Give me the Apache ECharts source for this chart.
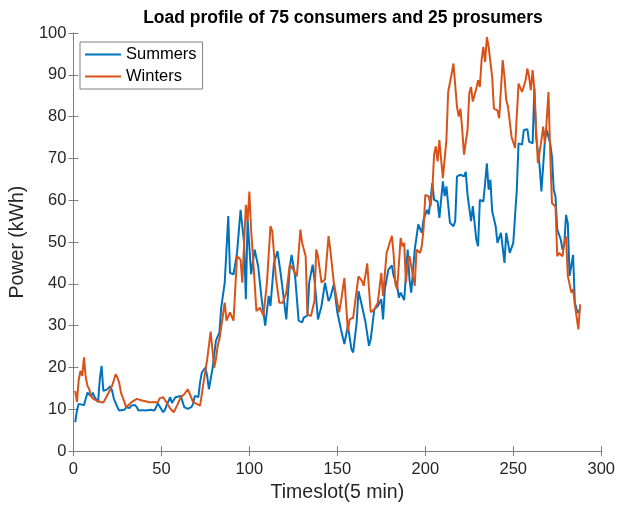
<!DOCTYPE html>
<html>
<head>
<meta charset="utf-8">
<script src="https://cdn.jsdelivr.net/npm/echarts@6/dist/echarts.min.js"></script>
<style>html,body{margin:0;padding:0;background:#fff;}#c{width:618px;height:508px;}</style>
</head>
<body>
<div id="c"></div>
<script>
var titleText = 'Load profile of 75 consumers and 25 prosumers';
var xLabel = 'Timeslot(5 min)';
var yLabel = 'Power (kWh)';
var seriesNames = ['Summers', 'Winters'];

var summerSlots = [1,2,3,4,6,7,8,10,11,12,13,14,15,16,17,18,19,21,22,23,25,26,27,29,30,32,33,35,36,37,39,41,42,44,46,47,48,49,51,52,53,55,56,58,61,63,65,67,68,69,71,72,73,75,76,77,79,81,83,84,86,88,89,91,93,95,97,98,99,101,103,105,107,109,111,112,114,116,118,121,123,124,126,128,130,131,133,134,136,137,139,141,143,145,146,148,150,152,154,156,158,159,161,162,164,166,168,169,171,173,175,176,177,179,181,182,184,185,186,188,190,191,192,194,196,198,199,201,202,204,205,207,208,210,211,212,214,216,217,218,220,222,223,224,226,227,229,230,231,233,234,235,236,237,238,240,241,243,245,246,248,250,252,253,255,256,258,259,261,262,263,265,266,268,269,271,272,273,274,275,277,278,279,280,281,282,283,284,285,286,287,288];
var summerValues = [6.9,9.7,11.3,11.5,11.0,12.5,14.0,13.1,14.0,12.9,13.2,11.7,17.2,20.4,14.4,14.6,14.7,15.5,14.4,12.5,10.5,9.7,9.4,9.9,10.5,10.3,10.9,11.0,10.5,9.7,9.8,9.7,10.1,9.9,9.7,10.5,11.4,11.0,9.3,9.8,11.0,12.9,11.5,12.9,13.2,10.5,10.1,10.5,11.3,13.2,12.9,16.5,18.8,20.0,18.0,14.8,19.6,26.4,28.4,34.3,40.3,56.2,42.6,42.3,47.4,57.7,49.8,36.3,55.4,42.3,48.2,44.2,36.3,30.0,37.1,34.7,45.0,47.8,41.8,31.5,44.2,46.9,41.8,31.2,30.8,32.0,32.4,40.3,44.6,41.1,31.5,34.7,40.3,35.9,36.7,39.9,33.2,29.2,25.6,30.0,24.4,23.6,30.8,38.3,34.7,30.8,25.2,26.8,33.9,34.7,36.3,31.5,38.7,43.4,44.4,41.9,39.5,36.7,37.9,36.1,48.2,41.1,37.9,48.2,54.2,52.2,55.4,57.7,56.6,64.1,60.1,59.7,55.8,64.5,61.0,63.3,54.6,53.8,55.0,65.7,66.1,65.7,66.8,61.3,55.0,58.6,50.6,49.0,60.1,59.7,64.1,68.8,62.5,64.9,57.4,53.8,49.8,52.2,45.0,52.2,47.4,49.8,62.5,73.6,73.3,76.8,77.0,74.0,73.6,86.7,75.2,68.1,62.1,74.4,76.8,73.6,70.4,62.5,60.9,53.0,50.6,48.2,49.4,56.5,54.5,41.9,41.5,46.9,35.5,33.9,33.0,34.0];

var winterSlots = [1,2,3,4,5,6,7,8,9,10,11,13,14,15,17,18,19,21,22,23,24,25,26,27,29,30,31,33,34,36,37,39,41,43,44,46,48,49,51,52,54,55,57,59,61,63,65,66,68,70,72,74,76,78,80,81,82,83,86,87,89,91,93,95,96,98,99,100,101,103,104,106,108,110,112,113,115,117,119,121,123,125,127,129,130,132,133,135,137,138,139,141,143,145,146,148,149,151,152,154,156,157,159,160,162,164,165,167,168,169,171,173,175,176,178,179,181,182,183,184,186,187,188,189,190,191,192,194,195,197,198,199,200,202,203,204,205,206,207,208,209,210,212,213,215,216,218,219,220,221,222,224,225,226,227,229,230,231,232,233,234,235,236,237,238,239,241,242,244,245,246,247,249,251,252,253,255,256,257,258,259,260,261,262,263,264,266,267,268,269,270,271,272,274,275,276,278,279,280,281,282,283,284,285,287,288];
var winterValues = [14.4,11.7,17.0,19.2,18.0,22.4,17.6,15.6,14.8,13.2,12.6,12.1,12.3,11.8,11.6,11.9,13.2,14.8,15.6,16.0,18.4,17.6,16.4,14.0,11.7,10.5,10.8,11.7,12.1,12.5,12.3,12.1,11.9,11.7,11.9,11.7,11.7,12.6,12.9,12.5,10.9,10.2,9.3,11.0,12.9,13.6,14.8,13.8,11.7,11.3,10.9,16.5,21.8,28.6,19.9,22.0,25.2,26.8,35.5,31.2,33.2,31.2,46.6,45.8,40.3,58.9,55.0,62.1,53.0,40.3,33.5,34.3,32.4,40.3,53.8,52.6,41.8,35.5,35.5,37.9,44.6,43.4,41.8,53.0,49.8,46.6,32.7,32.3,35.9,48.2,46.6,40.3,41.1,51.4,48.2,40.3,40.7,33.2,35.5,41.4,28.6,31.5,31.9,32.3,41.8,40.7,39.5,44.9,38.7,33.2,33.9,35.5,42.6,37.1,47.4,47.8,51.5,47.0,39.9,38.7,51.0,49.0,49.8,40.3,45.0,46.6,44.3,39.5,48.2,47.4,49.0,53.0,61.3,60.9,58.5,62.5,70.9,72.9,69.3,74.4,69.7,65.3,74.4,85.9,90.3,92.7,82.4,80.0,81.9,76.8,70.9,76.8,85.5,87.1,83.6,86.7,88.7,87.1,93.5,96.7,93.1,99.0,96.7,96.3,89.5,81.9,81.5,79.6,93.5,89.5,84.0,82.4,75.2,72.5,72.9,87.9,85.9,86.3,88.7,91.5,89.5,86.3,91.1,86.3,76.8,68.9,74.4,77.6,73.6,79.0,85.9,71.2,59.3,58.5,46.6,47.4,46.6,49.8,51.4,41.9,42.0,37.9,38.7,35.1,29.1,35.1];

var xTicks = [0, 50, 100, 150, 200, 250, 300];
var yTicks = [0, 10, 20, 30, 40, 50, 60, 70, 80, 90, 100];

function pairs(xs, ys) { return xs.map(function (x, i) { return [x, ys[i]]; }); }

var axisGray = '#808080';
var textCol = '#262626';
var font = 'Liberation Sans, Arial, Helvetica, sans-serif';

var chart = echarts.init(document.getElementById('c'), null, { renderer: 'canvas' });
chart.setOption({
  backgroundColor: '#ffffff',
  animation: false,
  title: {
    text: titleText, left: 338, top: 4, textAlign: 'center',
    textStyle: { fontFamily: font, fontSize: 17.5, fontWeight: 'bold', color: '#000' }
  },
  legend: {
    orient: 'vertical', left: 80, top: 42,
    data: seriesNames.map(function (n) { return { name: n, icon: 'rect' }; }),
    itemWidth: 36, itemHeight: 2, itemGap: 5,
    padding: [4, 6, 4, 5],
    backgroundColor: '#fff', borderColor: '#808080', borderWidth: 1,
    textStyle: { fontFamily: font, fontSize: 16.5, color: '#000', padding: [0, 0, 0, 0] }
  },
  grid: { left: 70, right: 16, top: 33, bottom: 56, containLabel: false },
  xAxis: [{
    type: 'value', min: 0, max: 300, interval: 50, position: 'bottom',
    name: xLabel, nameLocation: 'middle', nameGap: 30,
    nameTextStyle: { fontFamily: font, fontSize: 19.5, color: textCol },
    axisLine: { lineStyle: { color: axisGray, width: 1 } },
    axisTick: { inside: true, length: 5, lineStyle: { color: axisGray } },
    axisLabel: { fontFamily: font, fontSize: 16.5, color: textCol, margin: 10,
      formatter: function (v) { return xTicks.indexOf(v) >= 0 ? String(v) : ''; } },
    splitLine: { show: false }
  }, {
    type: 'value', min: 0, max: 300, interval: 50, position: 'top',
    axisLine: { lineStyle: { color: axisGray, width: 1 } },
    axisTick: { inside: true, length: 5, lineStyle: { color: axisGray } },
    axisLabel: { show: false }, splitLine: { show: false }
  }],
  yAxis: [{
    type: 'value', min: 0, max: 100, interval: 10, position: 'left',
    name: yLabel, nameLocation: 'middle', nameGap: 43,
    nameTextStyle: { fontFamily: font, fontSize: 19.5, color: textCol },
    axisLine: { show: true, lineStyle: { color: axisGray, width: 1 } },
    axisTick: { show: true, inside: true, length: 5, lineStyle: { color: axisGray } },
    axisLabel: { fontFamily: font, fontSize: 16.5, color: textCol, margin: 7,
      formatter: function (v) { return yTicks.indexOf(v) >= 0 ? String(v) : ''; } },
    splitLine: { show: false }
  }, {
    type: 'value', min: 0, max: 100, interval: 10, position: 'right',
    axisLine: { show: true, lineStyle: { color: axisGray, width: 1 } },
    axisTick: { show: true, inside: true, length: 5, lineStyle: { color: axisGray } },
    axisLabel: { show: false }, splitLine: { show: false }
  }],
  series: [{
    name: seriesNames[0], type: 'line', data: pairs(summerSlots, summerValues),
    showSymbol: false, symbol: 'none', lineStyle: { color: '#0072BD', width: 2 },
    itemStyle: { color: '#0072BD' }, z: 3
  }, {
    name: seriesNames[1], type: 'line', data: pairs(winterSlots, winterValues),
    showSymbol: false, symbol: 'none', lineStyle: { color: '#D95319', width: 2 },
    itemStyle: { color: '#D95319' }, z: 4
  }]
});
</script>
</body>
</html>
